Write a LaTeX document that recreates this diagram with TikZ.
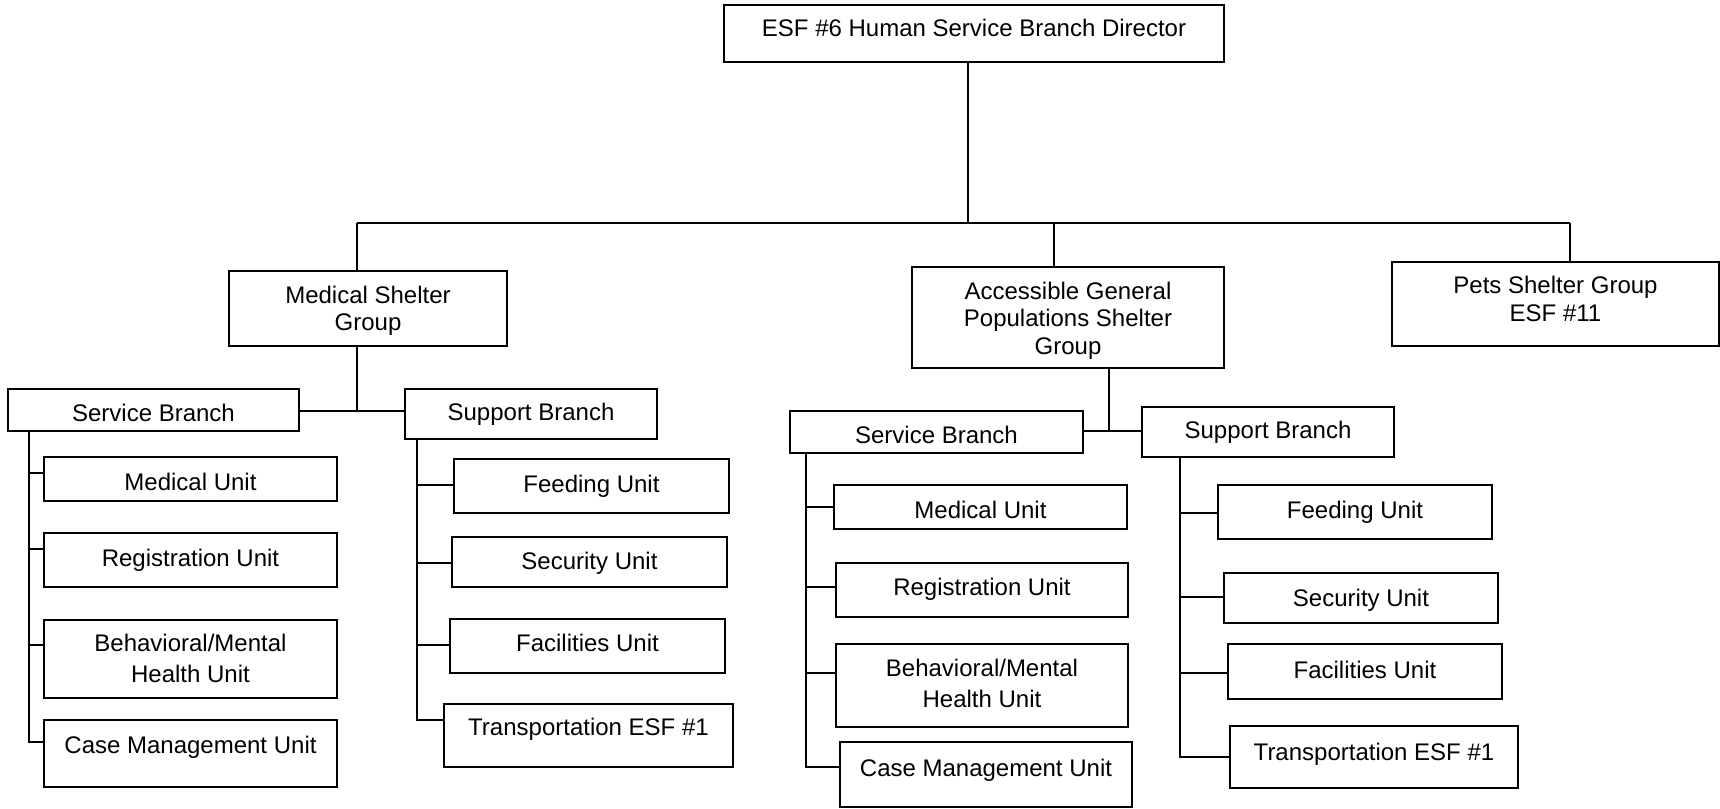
\documentclass[tikz,border=0pt]{standalone}
\usepackage{fontspec}
\setmainfont{Liberation Sans}
\newcommand\lift[2]{\raisebox{#1}[\height][\depth]{#2}}
\newcommand\mlift[3]{\lift{#1}{\fontsize{12}{#2}\selectfont\begin{tabular}{@{}c@{}}#3\end{tabular}}}
\newcommand\bx[6]{\node[box, minimum width={(#4-#2)*0.5pt}, minimum height={(#5-#3)*0.5pt}] (#1) at ({(#2+#4)/2},{(#3+#5)/2}) {#6};}
\begin{document}
\begin{tikzpicture}[x=0.5pt,y=-0.5pt,
  box/.style={draw=black, line width=0.9pt, fill=white, inner sep=0pt, align=center,
    font=\fontsize{12}{13.7}\selectfont},
  conn/.style={draw=black, line width=0.8pt}]
\useasboundingbox (0,0) rectangle (1720,809);
% top level
\bx{dir}{724}{5}{1224}{62}{\lift{3pt}{ESF \#6 Human Service Branch Director}}
\bx{msg}{229}{271}{507}{346}{\mlift{-1.5pt}{13.7pt}{Medical Shelter\\Group}}
\bx{agp}{912}{267}{1224}{368}{\mlift{-2pt}{13.7pt}{Accessible General\\Populations Shelter\\Group}}
\bx{pets}{1392}{262}{1719}{346}{\mlift{1pt}{13.7pt}{Pets Shelter Group\\ESF \#11}}
% left branches
\bx{sbl}{8}{389}{299}{431}{\lift{-1.5pt}{Service Branch}}
\bx{spl}{405}{389}{657}{439}{Support Branch}
\bx{mul}{44}{457}{337}{501}{\lift{-1.5pt}{Medical Unit}}
\bx{rul}{44}{533}{337}{587}{Registration Unit}
\bx{bhl}{44}{620}{337}{698}{\mlift{-1pt}{15.4pt}{Behavioral/Mental\\Health Unit}}
\bx{cml}{44}{720}{337}{787}{\lift{3pt}{Case Management Unit}}
\bx{ful}{454}{459}{729}{513}{Feeding Unit}
\bx{sul}{452}{537}{727}{587}{\lift{-0.5pt}{Security Unit}}
\bx{fal}{450}{619}{725}{673}{\lift{1.5pt}{Facilities Unit}}
\bx{trl}{444}{704}{733}{767}{\lift{3pt}{Transportation ESF \#1}}
% right branches
\bx{sbr}{790}{411}{1083}{453}{\lift{-1.5pt}{Service Branch}}
\bx{spr}{1142}{407}{1394}{457}{Support Branch}
\bx{mur}{834}{485}{1127}{529}{\lift{-1.5pt}{Medical Unit}}
\bx{rur}{836}{563}{1128}{617}{\lift{0.5pt}{Registration Unit}}
\bx{bhr}{836}{644}{1128}{727}{\mlift{0pt}{15.4pt}{Behavioral/Mental\\Health Unit}}
\bx{cmr}{840}{742}{1132}{807}{\lift{2pt}{Case Management Unit}}
\bx{fur}{1218}{485}{1492}{539}{Feeding Unit}
\bx{sur}{1224}{573}{1498}{623}{\lift{-1pt}{Security Unit}}
\bx{far}{1228}{644}{1502}{699}{\lift{1pt}{Facilities Unit}}
\bx{trr}{1230}{726}{1518}{788}{\lift{1.5pt}{Transportation ESF \#1}}
% top connectors
\coordinate (hl) at (357,223);
\coordinate (hr) at (1570,223);
\coordinate (hd) at (968,223);
\coordinate (ha) at (1054,223);
\draw[conn] (hl) -- (hr);
\draw[conn] (dir.south -| hd) -- (hd);
\draw[conn] (hl) -- (hl |- msg.north);
\draw[conn] (ha) -- (ha |- agp.north);
\draw[conn] (hr) -- (hr |- pets.north);
% group to branches
\coordinate (ml) at (357,411);
\draw[conn] (msg.south -| ml) -- (ml);
\draw[conn] (sbl.east |- ml) -- (spl.west |- ml);
\coordinate (mr) at (1109,431);
\draw[conn] (agp.south -| mr) -- (mr);
\draw[conn] (sbr.east |- mr) -- (spr.west |- mr);
% left service
\coordinate (t1) at (29,473);
\coordinate (t2) at (29,549);
\coordinate (t3) at (29,645);
\coordinate (t4) at (29,742);
\draw[conn] (sbl.south -| t4) -- (t4) -- (t4 -| cml.west);
\draw[conn] (t1) -- (t1 -| mul.west);
\draw[conn] (t2) -- (t2 -| rul.west);
\draw[conn] (t3) -- (t3 -| bhl.west);
% left support
\coordinate (s1) at (417,485);
\coordinate (s2) at (417,563);
\coordinate (s3) at (417,645);
\coordinate (s4) at (417,720);
\draw[conn] (spl.south -| s4) -- (s4) -- (s4 -| trl.west);
\draw[conn] (s1) -- (s1 -| ful.west);
\draw[conn] (s2) -- (s2 -| sul.west);
\draw[conn] (s3) -- (s3 -| fal.west);
% right service
\coordinate (r1) at (806,507);
\coordinate (r2) at (806,587);
\coordinate (r3) at (806,673);
\coordinate (r4) at (806,767);
\draw[conn] (sbr.south -| r4) -- (r4) -- (r4 -| cmr.west);
\draw[conn] (r1) -- (r1 -| mur.west);
\draw[conn] (r2) -- (r2 -| rur.west);
\draw[conn] (r3) -- (r3 -| bhr.west);
% right support
\coordinate (q1) at (1180,513);
\coordinate (q2) at (1180,597);
\coordinate (q3) at (1180,673);
\coordinate (q4) at (1180,757);
\draw[conn] (spr.south -| q4) -- (q4) -- (q4 -| trr.west);
\draw[conn] (q1) -- (q1 -| fur.west);
\draw[conn] (q2) -- (q2 -| sur.west);
\draw[conn] (q3) -- (q3 -| far.west);
\end{tikzpicture}
\end{document}
